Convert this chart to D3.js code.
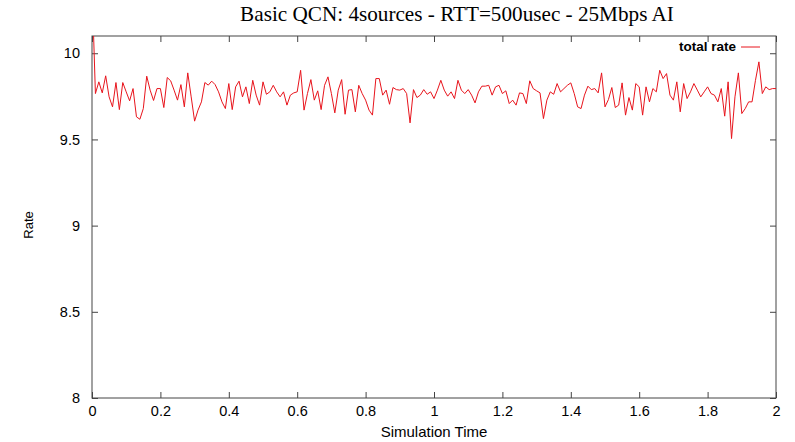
<!DOCTYPE html>
<html>
<head>
<meta charset="utf-8">
<script src="https://cdn.jsdelivr.net/npm/d3@7"></script>
<style>
  body { margin: 0; background: #fff; }
  .chart text { font-family: 'Liberation Sans', Arial, sans-serif; fill: #000; }
</style>
</head>
<body>
<div class="chart"></div>
<script>
// ===== Basic QCN total rate vs simulation time =====

// sampling step of the simulation output (seconds)
const timeStep = 0.01

// total rate, one value per step starting at t = 0
const totalRate = [
  10.4, 9.766, 9.834, 9.77, 9.869, 9.747, 9.689, 9.83, 9.673, 9.83,
  9.776, 9.724, 9.795, 9.631, 9.617, 9.679, 9.867, 9.786, 9.726, 9.795,
  9.795, 9.685, 9.859, 9.84, 9.786, 9.728, 9.818, 9.689, 9.886, 9.747,
  9.606, 9.67, 9.718, 9.83, 9.815, 9.838, 9.818, 9.776, 9.718, 9.679,
  9.824,
  9.673, 9.805, 9.838, 9.747, 9.805, 9.708, 9.843, 9.757, 9.699, 9.834,
  9.762, 9.776, 9.814, 9.776, 9.747, 9.776, 9.699, 9.757, 9.77, 9.776,
  9.901, 9.67, 9.766, 9.847, 9.728, 9.782, 9.673, 9.814, 9.863, 9.766,
  9.654, 9.786, 9.847, 9.646, 9.786, 9.789, 9.66, 9.814, 9.766,
  9.728, 9.67, 9.641, 9.853, 9.853, 9.757, 9.786, 9.704, 9.801, 9.789,
  9.786, 9.795, 9.766, 9.596, 9.789, 9.743, 9.757, 9.789, 9.762, 9.776,
  9.737, 9.786, 9.843, 9.786, 9.751, 9.776, 9.737, 9.843, 9.786, 9.766,
  9.789, 9.757, 9.712, 9.776, 9.809, 9.809, 9.814, 9.757, 9.805, 9.814,
  9.766,
  9.782, 9.708, 9.728, 9.699, 9.77, 9.766, 9.708, 9.84, 9.795, 9.782,
  9.77, 9.621, 9.728, 9.776, 9.762, 9.824, 9.776, 9.795, 9.814, 9.828,
  9.766, 9.689, 9.679, 9.757, 9.809, 9.789, 9.795, 9.77, 9.886, 9.689,
  9.731, 9.801, 9.685, 9.699, 9.828, 9.641, 9.743, 9.67, 9.824,
  9.805, 9.641, 9.805, 9.718, 9.795, 9.776, 9.901, 9.853, 9.882, 9.757,
  9.728, 9.834, 9.66, 9.824, 9.737, 9.776, 9.824, 9.786, 9.747, 9.776,
  9.805, 9.766, 9.757, 9.718, 9.795, 9.635, 9.834, 9.505, 9.747, 9.886,
  9.65, 9.679, 9.718, 9.718, 9.843, 9.95, 9.766, 9.805, 9.789, 9.795,
  9.795
]

const xTicks = [0, 0.2, 0.4, 0.6, 0.8, 1, 1.2, 1.4, 1.6, 1.8, 2]
const yTicks = [8, 8.5, 9, 9.5, 10]

const title = 'Basic QCN: 4sources - RTT=500usec - 25Mbps AI'
const seriesName = 'total rate'

const margin = { top: 36, right: 19, bottom: 44, left: 92 }
const width = 795 - margin.left - margin.right
const height = 442 - margin.top - margin.bottom

const svg = d3.select('.chart')
  .append('svg')
    .attr('width', 795)
    .attr('height', 442)

const g = svg.append('g')
  .attr('transform', `translate(${margin.left}, ${margin.top})`)

const xScale = d3.scaleLinear()
  .domain([0, 2])
  .range([0, width])

const yScale = d3.scaleLinear()
  .domain([8, 10.1])
  .range([height, 0])

// gnuplot style: ticks point inward, mirrored on top/right
const fmt = d3.format('')

g.append('g')
  .attr('transform', `translate(0, ${height})`)
  .call(d3.axisBottom(xScale).tickValues(xTicks).tickFormat(fmt).tickSize(-6).tickPadding(8))

g.append('g')
  .call(d3.axisTop(xScale).tickValues(xTicks).tickFormat('').tickSize(-6))

g.append('g')
  .call(d3.axisLeft(yScale).tickValues(yTicks).tickFormat(fmt).tickSize(-6).tickPadding(12))

g.append('g')
  .attr('transform', `translate(${width}, 0)`)
  .call(d3.axisRight(yScale).tickValues(yTicks).tickFormat('').tickSize(-6))

g.selectAll('.domain').remove()
g.selectAll('.tick line').attr('stroke', '#444')
g.selectAll('.tick text')
  .style('font-size', '14.5px')
  .style('font-family', "'Liberation Sans', Arial, sans-serif")
  .attr('fill', '#000')

g.append('rect')
  .attr('width', width)
  .attr('height', height)
  .attr('fill', 'none')
  .attr('stroke', '#444')

g.append('clipPath')
  .attr('id', 'plot-clip')
  .append('rect')
    .attr('width', width)
    .attr('height', height)

const line = d3.line()
  .x((d, i) => xScale(i * timeStep))
  .y(d => yScale(d))

g.append('path')
  .datum(totalRate)
  .attr('clip-path', 'url(#plot-clip)')
  .attr('fill', 'none')
  .attr('stroke', '#e8141c')
  .attr('stroke-width', 1)
  .attr('d', line)

// legend, top right inside the frame
g.append('text')
  .attr('x', width - 40)
  .attr('y', 15)
  .attr('text-anchor', 'end')
  .style('font-size', '13.5px')
  .style('font-weight', 'bold')
  .text(seriesName)

g.append('line')
  .attr('x1', width - 35)
  .attr('x2', width - 16)
  .attr('y1', 11)
  .attr('y2', 11)
  .attr('stroke', '#e8141c')

svg.append('text')
  .attr('x', 457)
  .attr('y', 21)
  .attr('text-anchor', 'middle')
  .style('font-family', "'Liberation Serif', 'Times New Roman', serif")
  .style('font-size', '21.2px')
  .text(title)

svg.append('text')
  .attr('x', margin.left + width / 2)
  .attr('y', 437)
  .attr('text-anchor', 'middle')
  .style('font-size', '15px')
  .text('Simulation Time')

svg.append('text')
  .attr('transform', 'translate(33, 225) rotate(-90)')
  .attr('text-anchor', 'middle')
  .style('font-size', '13px')
  .text('Rate')
</script>
</body>
</html>
